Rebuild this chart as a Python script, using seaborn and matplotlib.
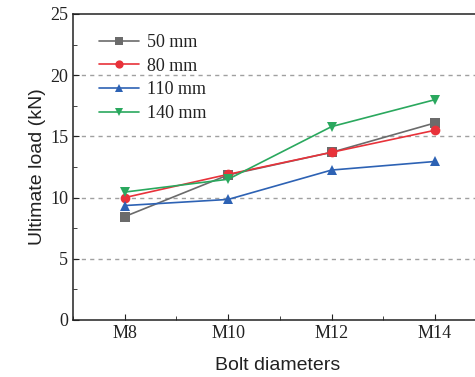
import matplotlib
matplotlib.use("Agg")
import matplotlib.pyplot as plt
from matplotlib.ticker import MultipleLocator
import seaborn as sns
import pandas as pd

# Bolt diameters (nominal, mm) and their labels
diameters = [8, 10, 12, 14]
diameter_labels = ["M8", "M10", "M12", "M14"]

# Ultimate load (kN) for each spacing series
load_50mm = [8.45, 11.85, 13.7, 16.1]
load_80mm = [10.0, 11.9, 13.7, 15.5]
load_110mm = [9.35, 9.85, 12.25, 12.95]
load_140mm = [10.45, 11.5, 15.8, 18.0]

series_names = ["50 mm", "80 mm", "110 mm", "140 mm"]
series_values = [load_50mm, load_80mm, load_110mm, load_140mm]

rows = []
for name, vals in zip(series_names, series_values):
    for d, v in zip(diameters, vals):
        rows.append({"diameter": d, "load": v, "series": name})
df = pd.DataFrame(rows)

sns.set_style("ticks")
plt.rcParams["font.family"] = ["Liberation Serif", "DejaVu Serif"]

palette = {"50 mm": "#6b6b6b", "80 mm": "#e8323a",
           "110 mm": "#2d62b4", "140 mm": "#2aa85e"}
markers = {"50 mm": "s", "80 mm": "o", "110 mm": "^", "140 mm": "v"}

fig = plt.figure(figsize=(4.75, 3.77), dpi=100)
ax = fig.add_axes([0.1537, 0.1512, 0.86, 0.8117])

sns.lineplot(data=df, x="diameter", y="load", hue="series", style="series",
             palette=palette, markers=markers, dashes=False, markersize=7,
             markeredgewidth=0, linewidth=1.2, ax=ax)

ax.set_xlim(7, 14.9)
ax.set_ylim(0, 25)
ax.set_xticks(diameters)
ax.set_xticklabels(diameter_labels)
ax.xaxis.set_minor_locator(MultipleLocator(1))
ax.yaxis.set_major_locator(MultipleLocator(5))
ax.yaxis.set_minor_locator(MultipleLocator(2.5))
ax.tick_params(which="both", direction="in", labelsize=13, color="#222222",
               labelcolor="#222222")
ax.tick_params(which="major", length=4)
ax.tick_params(which="minor", length=3)

for y in [5, 10, 15, 20]:
    ax.axhline(y, color="#a0a0a0", linestyle=(0, (3, 3)), linewidth=1, zorder=0)

for s in ["left", "top", "bottom"]:
    ax.spines[s].set_visible(True)
    ax.spines[s].set_color("#222222")
    ax.spines[s].set_linewidth(1.1)
ax.spines["right"].set_visible(False)

ax.set_xlabel("Bolt diameters", fontsize=14, family="Liberation Sans",
              labelpad=11, color="#222222")
ax.set_ylabel("Ultimate load (kN)", fontsize=14, family="Liberation Sans",
              labelpad=3, color="#222222")

leg = ax.legend(loc="upper left", frameon=False, fontsize=13, handlelength=2.2,
                handletextpad=0.45, labelspacing=0.37, borderaxespad=0.5,
                markerscale=0.85, bbox_to_anchor=(0.025, 0.988))
for t in leg.get_texts():
    t.set_color("#222222")

fig.savefig("out.png", dpi=100)
